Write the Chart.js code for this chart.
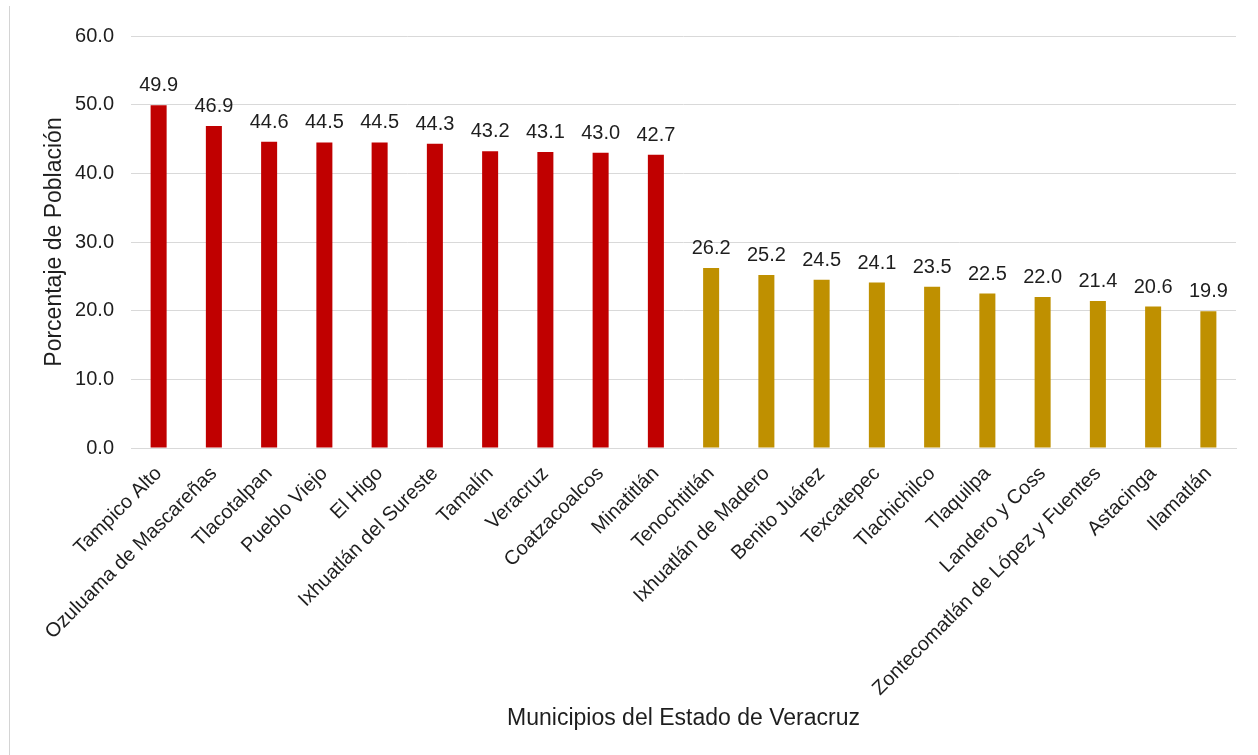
<!DOCTYPE html>
<html>
<head>
<meta charset="utf-8">
<script src="https://cdn.jsdelivr.net/npm/chart.js@4.4.0/dist/chart.umd.min.js"></script>
<style>
  html, body { margin: 0; padding: 0; background: #fff; }
  #wrap { position: relative; width: 1258px; height: 755px; }
  #edge { position: absolute; left: 9px; top: 6px; width: 1px; height: 749px; background: #d4d4d4; }
</style>
</head>
<body>
<div id="wrap">
  <div id="edge"></div>
  <canvas id="chart" width="1258" height="755"></canvas>
</div>
<script>
const municipios = [
  'Tampico Alto', 'Ozuluama de Mascareñas', 'Tlacotalpan', 'Pueblo Viejo', 'El Higo',
  'Ixhuatlán del Sureste', 'Tamalín', 'Veracruz', 'Coatzacoalcos', 'Minatitlán',
  'Tenochtitlán', 'Ixhuatlán de Madero', 'Benito Juárez', 'Texcatepec', 'Tlachichilco',
  'Tlaquilpa', 'Landero y Coss', 'Zontecomatlán de López y Fuentes', 'Astacinga', 'Ilamatlán'
];
const porcentajes = [49.9, 46.9, 44.6, 44.5, 44.5, 44.3, 43.2, 43.1, 43.0, 42.7,
                     26.2, 25.2, 24.5, 24.1, 23.5, 22.5, 22.0, 21.4, 20.6, 19.9];
const colores = porcentajes.map((v, i) => i < 10 ? '#C00000' : '#BF9000');

const fontFam = '"Liberation Sans", Arial, sans-serif';

// draw values above each bar
const valueLabels = {
  id: 'valueLabels',
  afterDatasetsDraw(chart) {
    const ctx = chart.ctx;
    const meta = chart.getDatasetMeta(0);
    ctx.save();
    ctx.font = '20px ' + fontFam;
    ctx.fillStyle = '#1e1e1e';
    ctx.textAlign = 'center';
    ctx.textBaseline = 'alphabetic';
    meta.data.forEach((bar, i) => {
      ctx.fillText(porcentajes[i].toFixed(1), bar.x, bar.y - 14);
    });
    ctx.restore();
  }
};

new Chart(document.getElementById('chart'), {
  type: 'bar',
  data: {
    labels: municipios,
    datasets: [{
      data: porcentajes,
      backgroundColor: colores,
      barPercentage: 0.29,
      categoryPercentage: 1
    }]
  },
  options: {
    responsive: false,
    animation: false,
    layout: { padding: { left: 37, right: 22, top: 36, bottom: 19 } },
    plugins: {
      legend: { display: false },
      tooltip: { enabled: false }
    },
    scales: {
      x: {
        afterFit: (s) => { s.height = 288; },
        grid: { display: false, drawTicks: false },
        border: { color: '#d9d9d9' },
        ticks: {
          minRotation: 45, maxRotation: 45, autoSkip: false, padding: 14,
          color: '#1e1e1e', font: { family: fontFam, size: 20 }
        },
        title: {
          display: true, text: 'Municipios del Estado de Veracruz',
          color: '#1e1e1e', font: { family: fontFam, size: 23 },
          padding: { top: 4, bottom: 4 }
        }
      },
      y: {
        min: 0, max: 60,
        afterFit: (s) => { s.width = 94; },
        grid: { color: '#d9d9d9', drawTicks: false },
        border: { display: false },
        ticks: {
          stepSize: 10, padding: 17,
          color: '#1e1e1e', font: { family: fontFam, size: 20 },
          callback: (v) => Number(v).toFixed(1)
        },
        title: {
          display: true, text: 'Porcentaje de Población',
          color: '#1e1e1e', font: { family: fontFam, size: 23 },
          padding: { top: 4, bottom: 4 }
        }
      }
    }
  },
  plugins: [valueLabels]
});
</script>
</body>
</html>
